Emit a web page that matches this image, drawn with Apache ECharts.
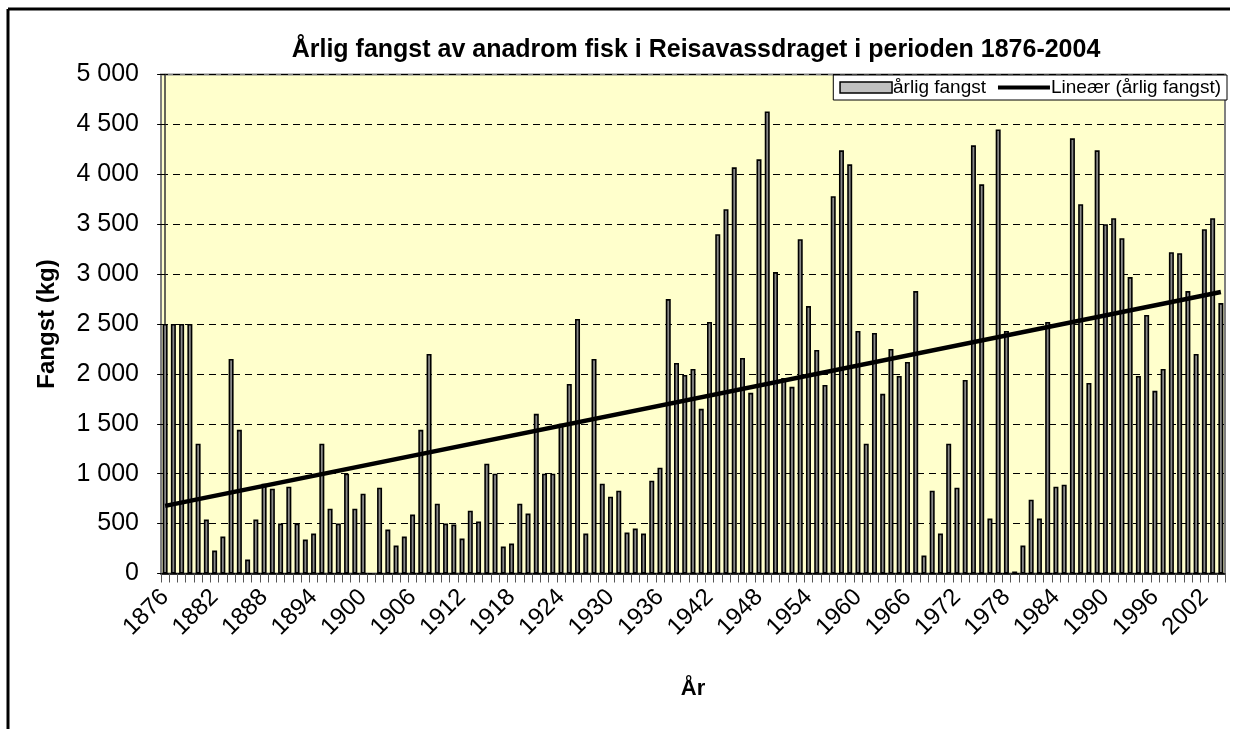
<!DOCTYPE html>
<html>
<head>
<meta charset="utf-8">
<script src="https://cdn.jsdelivr.net/npm/echarts@6/dist/echarts.min.js"></script>
<style>
  html, body { margin: 0; padding: 0; background: #fff; }
  #chart { width: 1239px; height: 729px; }
</style>
</head>
<body>
<div id="chart"></div>
<script>
// årlige fangster, 1876-2004 (kg), 1901 mangler
const years = [];
for (let y = 1876; y <= 2004; y++) years.push(String(y));

const catchKg = [
  2500, 2500, 2500, 2500, 1300, 540, 230, 370, 2150, 1440,
  140, 540, 900, 850, 500, 870, 500, 340, 400, 1300,
  650, 500, 1000, 650, 800, null, 860, 440, 280, 370,
  590, 1440, 2200, 700, 500, 490, 350, 630, 520, 1100,
  1000, 270, 300, 700, 600, 1600, 1000, 1000, 1500, 1900,
  2550, 400, 2150, 900, 770, 830, 410, 450, 400, 930,
  1060, 2750, 2110, 1990, 2050, 1650, 2520, 3400, 3650, 4070,
  2160, 1810, 4150, 4630, 3020, 1960, 1870, 3350, 2680, 2240,
  1890, 3780, 4240, 4100, 2430, 1300, 2410, 1800, 2250, 1980,
  2120, 2830, 180, 830, 400, 1300, 860, 1940, 4290, 3900,
  550, 4450, 2430, 20, 280, 740, 550, 2520, 870, 890,
  4360, 3700, 1910, 4240, 3500, 3560, 3360, 2970, 1980, 2590,
  1830, 2050, 3220, 3210, 2830, 2200, 3450, 3560, 2710
];

const yTicks = [0, 500, 1000, 1500, 2000, 2500, 3000, 3500, 4000, 4500, 5000];

// lineær trend (minste kvadraters metode), tomme år hoppes over
function linFit(vals) {
  let n = 0, sx = 0, sy = 0, sxx = 0, sxy = 0;
  vals.forEach((v, i) => {
    if (v == null) return;
    n++; sx += i; sy += v; sxx += i * i; sxy += i * v;
  });
  const b = (n * sxy - sx * sy) / (n * sxx - sx * sx);
  const a = (sy - b * sx) / n;
  return x => a + b * x;
}
const trend = linFit(catchKg);
const lastIdx = catchKg.length - 1;
const trendData = [[0, trend(0)], [lastIdx, trend(lastIdx)]];

const FONT = 'Liberation Sans, Arial, sans-serif';

const chart = echarts.init(document.getElementById('chart'));
chart.setOption({
  animation: false,
  title: {
    text: 'Årlig fangst av anadrom fisk i Reisavassdraget i perioden 1876-2004',
    left: 691,
    textAlign: 'center',
    top: 33,
    textStyle: { fontFamily: FONT, fontSize: 25, fontWeight: 'bold', color: '#000' }
  },
  legend: {
    right: 12,
    top: 75,
    padding: [3, 6, 3, 6],
    itemGap: 10,
    itemWidth: 52,
    itemHeight: 11,
    backgroundColor: '#fff',
    borderColor: '#000',
    borderWidth: 1,
    textStyle: { fontFamily: FONT, fontSize: 19, color: '#000', padding: [0, 0, 0, -4] },
    data: [
      { name: 'årlig fangst', icon: 'rect', itemStyle: { color: '#c0c0c0', borderColor: '#000', borderWidth: 1.5 } },
      { name: 'Lineær (årlig fangst)', itemStyle: { opacity: 0 }, lineStyle: { width: 4, color: '#000' } }
    ]
  },
  grid: {
    left: 161,
    right: 14,
    top: 74.5,
    bottom: 155.5,
    show: true,
    backgroundColor: '#FFFFCC',
    borderColor: '#808080',
    borderWidth: 2
  },
  xAxis: [{
    type: 'category',
    data: years,
    name: 'År',
    nameLocation: 'middle',
    nameGap: 104,
    nameTextStyle: { fontFamily: FONT, fontSize: 22, fontWeight: 'bold', color: '#000' },
    axisLine: { lineStyle: { color: '#000', width: 1.5 } },
    axisTick: { show: true, interval: 0, length: 9, lineStyle: { color: '#555' } },
    axisLabel: {
      interval: 5,
      rotate: 45,
      margin: 20,
      fontFamily: FONT,
      fontSize: 24,
      color: '#000'
    },
    splitLine: { show: false }
  }, {
    type: 'value',
    min: -0.5,
    max: lastIdx + 0.5,
    show: false
  }],
  yAxis: {
    type: 'value',
    min: 0,
    max: 5000,
    interval: 500,
    name: 'Fangst (kg)',
    nameLocation: 'middle',
    nameGap: 102,
    nameTextStyle: { fontFamily: FONT, fontSize: 24, fontWeight: 'bold', color: '#000' },
    axisLine: { show: true, lineStyle: { color: '#333', width: 1.5 } },
    axisTick: { show: true, length: 8, lineStyle: { color: '#000' } },
    axisLabel: {
      margin: 22,
      fontFamily: FONT,
      fontSize: 25,
      color: '#000',
      formatter: v => yTicks.includes(v) ? String(v).replace(/\B(?=(\d{3})+(?!\d))/g, ' ') : ''
    },
    splitLine: { lineStyle: { color: '#000', type: [7, 5], width: 1 } }
  },
  series: [
    {
      name: 'årlig fangst',
      type: 'bar',
      xAxisIndex: 0,
      data: catchKg,
      barWidth: 5,
      itemStyle: { color: '#888888', borderColor: '#000', borderWidth: 1.6 }
    },
    {
      name: 'Lineær (årlig fangst)',
      type: 'line',
      xAxisIndex: 1,
      data: trendData,
      symbol: 'none',
      z: 5,
      lineStyle: { color: '#000', width: 4.5 },
      itemStyle: { color: '#000' }
    }
  ],
  graphic: [
    { type: 'line', shape: { x1: 8, y1: 9, x2: 1230, y2: 9 }, style: { stroke: '#000', lineWidth: 3 } },
    { type: 'line', shape: { x1: 8, y1: 9, x2: 8, y2: 729 }, style: { stroke: '#000', lineWidth: 3 } }
  ]
});
</script>
</body>
</html>
